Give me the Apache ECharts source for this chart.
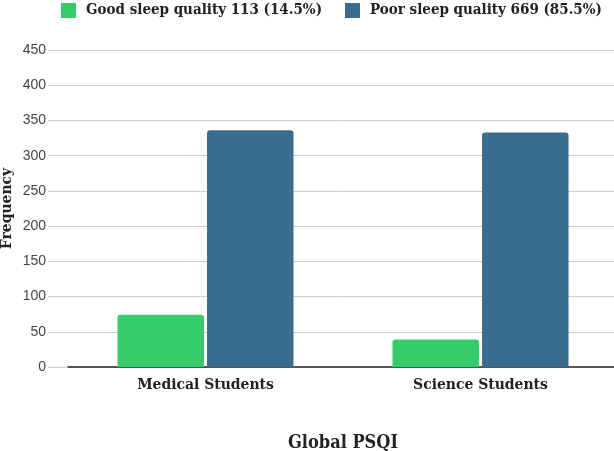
<!DOCTYPE html>
<html><head><meta charset="utf-8">
<script src="https://cdn.jsdelivr.net/npm/echarts@6/dist/echarts.min.js"></script>
<style>html,body{margin:0;padding:0;background:#fff}#c{width:614px;height:451px}</style>
</head><body><div id="c"></div>
<script>
const categories = ["Medical Students", "Science Students"];
const goodSleep = [74, 39];
const poorSleep = [336, 333];
const seriesNames = ["Good sleep quality 113 (14.5%)", "Poor sleep quality 669 (85.5%)"];
const yTicks = [0, 50, 100, 150, 200, 250, 300, 350, 400, 450];

const serif = "'DejaVu Serif Condensed', 'DejaVu Serif', serif";
const chart = echarts.init(document.getElementById('c'), null, {renderer: 'canvas'});
chart.setOption({
  animation: false,
  color: ['#34cd69', '#3a6d8d'],
  legend: {
    top: -2, left: 56, itemWidth: 15, itemHeight: 15, itemGap: 23,
    icon: 'rect',
    textStyle: {fontFamily: serif, fontWeight: 'bold', fontSize: 15, color: '#222', padding: [0, 0, 0, 5]},
    data: seriesNames
  },
  grid: {left: 68, right: -4, top: 50, bottom: 84, containLabel: false, outerBoundsMode: 'none'},
  xAxis: {
    type: 'category', data: categories,
    name: 'Global PSQI', nameLocation: 'middle', nameGap: 67,
    nameTextStyle: {fontFamily: serif, fontWeight: 'bold', fontSize: 18, color: '#222'},
    axisLine: {lineStyle: {color: '#555', width: 2}},
    axisTick: {show: false},
    axisLabel: {fontFamily: serif, fontWeight: 'bold', fontSize: 15.5, color: '#222', margin: 10}
  },
  yAxis: {
    type: 'value', min: yTicks[0], max: yTicks[yTicks.length - 1], interval: 50,
    name: 'Frequency', nameLocation: 'middle', nameGap: 53, nameRotate: 90, nameMoveOverlap: false,
    nameTextStyle: {fontFamily: serif, fontWeight: 'bold', fontSize: 15.5, color: '#222'},
    axisLine: {show: false},
    axisTick: {show: true, length: 20, lineStyle: {color: '#ccc'}},
    splitLine: {lineStyle: {color: '#ccc'}},
    axisLabel: {fontFamily: "'Liberation Sans', Arial, sans-serif", fontSize: 14, color: '#444', margin: 22}
  },
  series: [
    {name: seriesNames[0], type: 'bar', data: goodSleep, barGap: '3.5%', barCategoryGap: '36%',
     itemStyle: {borderRadius: [3, 3, 0, 0]}},
    {name: seriesNames[1], type: 'bar', data: poorSleep,
     itemStyle: {borderRadius: [3, 3, 0, 0]}}
  ]
});
</script></body></html>
